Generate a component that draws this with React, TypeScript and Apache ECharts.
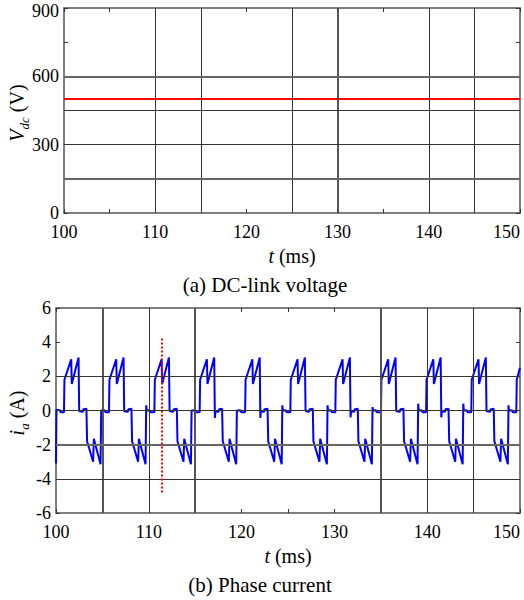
import React, { useEffect, useRef } from 'react';
import * as echarts from 'echarts';

// ---- data ----
const xTickLabels = [100, 110, 120, 130, 140, 150];
const vdcTime = [100, 150];
const vdcValues = [500, 500];
const vdcTickLabels = [0, 300, 600, 900];
const iaTickLabels = [-6, -4, -2, 0, 2, 4, 6];

// grid lines (oscilloscope style) drawn in the reference
const topVGridThin = [110, 115, 125, 140, 145];
const topVGridThick = [130];
const topHGridThin = [450, 300];
const topHGridThick = [600, 150];
const botVGridThin = [110, 140, 145];
const botVGridThick = [105, 115, 135];
const botHGridThin = [2, 0, -4];
const botHGridThick = [-2];

// red dotted marker in the current plot
const markerTime = 111.35;
const markerRange = [-4.8, 4.3];

// phase current: start, rising-edge times, one cycle shape, per-cycle levels
const startTimes = [100, 100.05, 100.4, 100.5];
const startValues = [-3.1, 0.05, 0.02, -0.1];
const riseTimes = [100.88, 105.73, 110.62, 115.5, 120.4, 125.27, 130.12, 135.04, 139.9, 144.77];
const shapeOffsets = [-0.02, 0.03, 0.76, 0.82, 1.55, 1.62, 1.68, 2.0, 2.08, 2.4, 2.47, 3.12, 3.2, 3.92, 3.99, 4.05, 4.35, 4.45];
const shapeValues = [-0.1, 1.8, 3.0, 1.55, 3.1, NaN, -0.05, -0.08, 0.08, 0.1, -1.8, -3.0, -1.65, -3.15, NaN, 0.0, 0.02, -0.1];
const posDropLevel = [-0.05, -0.05, 0, -0.44, -0.44, 0.05, -0.4, 0, -0.4, 0];
const negEndLevel = [0, 0.3, 0, 0, 0.3, 0.3, 0.2, 0.4, 0.4, 0.3];
const endTimes = [149.6, 149.65, 150];
const endValues = [-0.1, 1.8, 2.5];

const FONT = 'Liberation Serif, serif';

function buildCurrent(): number[][] {
  const pts: number[][] = [];
  startTimes.forEach((t, i) => pts.push([t, startValues[i]]));
  riseTimes.forEach((r, c) => {
    shapeOffsets.forEach((o, k) => {
      let v = shapeValues[k];
      if (k === 5) v = posDropLevel[c];
      if (k === 14) v = negEndLevel[c];
      pts.push([+(r + o).toFixed(3), v]);
    });
  });
  endTimes.forEach((t, i) => pts.push([t, endValues[i]]));
  return pts;
}

export default function App() {
  const ref = useRef<HTMLDivElement>(null);
  useEffect(() => {
    if (!ref.current) return;
    const chart = echarts.init(ref.current, undefined, { renderer: 'svg' });

    const axisLine = { show: true, onZero: false, lineStyle: { color: '#555', width: 1.5 } };
    const axisTick = { show: true, inside: true, length: 4, lineStyle: { color: '#333', width: 1 } };
    const xLabel = {
      color: '#000', fontSize: 18, fontFamily: FONT, margin: 10, alignMaxLabel: 'right',
      formatter: (v: number) => (xTickLabels.includes(v) ? String(v) : ''),
    };
    const xName = {
      name: '{i|t} (ms)',
      nameLocation: 'middle' as const,
      nameGap: 33,
      nameTextStyle: {
        fontSize: 20, fontFamily: FONT, color: '#000',
        rich: { i: { fontSize: 20, fontFamily: FONT, fontStyle: 'italic', color: '#000' } },
      },
    };
    const xBase = { type: 'value' as const, min: 100, max: 150, interval: 5, splitLine: { show: false }, axisLine, axisTick };

    const vLines = (vals: number[], color: string, width: number) =>
      vals.map((v) => ({ xAxis: v, lineStyle: { color, width, type: 'solid' } }));
    const hLines = (vals: number[], color: string, width: number) =>
      vals.map((v) => ({ yAxis: v, lineStyle: { color, width, type: 'solid' } }));

    const gridSeries = (xi: number, yi: number, data: any[]) => ({
      type: 'line',
      xAxisIndex: xi,
      yAxisIndex: yi,
      data: [],
      z: 1,
      silent: true,
      markLine: { silent: true, symbol: ['none', 'none'], label: { show: false }, data, animation: false },
    });

    const yTitleRich = {
      i: { fontSize: 20, fontStyle: 'italic', fontFamily: FONT, lineHeight: 24, verticalAlign: 'bottom' },
      s: { fontSize: 13, fontStyle: 'italic', fontFamily: FONT, lineHeight: 24, verticalAlign: 'bottom', padding: [0, 0, -4, 0] },
      n: { fontSize: 20, fontFamily: FONT, lineHeight: 24, verticalAlign: 'bottom' },
    };
    const yLabelRich = {
      top: { fontSize: 18, fontFamily: FONT, color: '#000', lineHeight: 16, padding: [5, 0, 0, 0] },
    };

    const option: any = {
      animation: false,
      textStyle: { fontFamily: FONT },
      grid: [
        { left: 64, top: 8, width: 456, height: 205, containLabel: false, outerBoundsMode: 'none' },
        { left: 56, top: 308, width: 464, height: 205, containLabel: false, outerBoundsMode: 'none' },
      ],
      xAxis: [
        { ...xBase, gridIndex: 0, position: 'bottom', axisLabel: xLabel, ...xName },
        { ...xBase, gridIndex: 0, position: 'top', axisLabel: { show: false } },
        { ...xBase, gridIndex: 1, position: 'bottom', axisLabel: xLabel, ...xName },
        { ...xBase, gridIndex: 1, position: 'top', axisLabel: { show: false } },
      ],
      yAxis: [
        {
          type: 'value', gridIndex: 0, min: 0, max: 900, interval: 150, position: 'left',
          splitLine: { show: false }, axisLine, axisTick,
          axisLabel: { color: '#000', fontSize: 18, lineHeight: 16, fontFamily: FONT, margin: 5, rich: yLabelRich,
            formatter: (v: number) => (vdcTickLabels.includes(v) ? (v === 900 ? '{top|900}' : String(v)) : '') },
        },
        {
          type: 'value', gridIndex: 0, min: 0, max: 900, interval: 150, position: 'right',
          splitLine: { show: false }, axisLine, axisTick, axisLabel: { show: false },
        },
        {
          type: 'value', gridIndex: 1, min: -6, max: 6, interval: 2, position: 'left',
          splitLine: { show: false }, axisLine, axisTick,
          axisLabel: { color: '#000', fontSize: 18, lineHeight: 16, fontFamily: FONT, margin: 5,
            formatter: (v: number) => (iaTickLabels.includes(v) ? String(v) : '') },
        },
        {
          type: 'value', gridIndex: 1, min: -6, max: 6, interval: 2, position: 'right',
          splitLine: { show: false }, axisLine, axisTick, axisLabel: { show: false },
        },
      ],
      series: [
        gridSeries(0, 0, [
          ...vLines(topVGridThin, '#333', 1),
          ...vLines(topVGridThick, '#444', 1.8),
          ...hLines(topHGridThin, '#333', 1),
          ...hLines(topHGridThick, '#666', 2),
        ]),
        gridSeries(2, 2, [
          ...vLines(botVGridThin, '#333', 1),
          ...vLines(botVGridThick, '#555', 2),
          ...hLines(botHGridThin, '#333', 1.2),
          ...hLines(botHGridThick, '#666', 2.2),
        ]),
        {
          type: 'line', xAxisIndex: 0, yAxisIndex: 0, z: 3,
          data: vdcTime.map((t, i) => [t, vdcValues[i]]),
          showSymbol: false, symbol: 'none',
          lineStyle: { color: '#ff0000', width: 2 },
        },
        {
          type: 'line', xAxisIndex: 2, yAxisIndex: 2, z: 3,
          data: buildCurrent(),
          showSymbol: false, symbol: 'none',
          lineStyle: { color: '#0000ff', width: 2 },
        },
        {
          type: 'line', xAxisIndex: 2, yAxisIndex: 2, z: 4, data: [],
          markLine: {
            silent: true, symbol: ['none', 'none'], label: { show: false },
            data: [[{ coord: [markerTime, markerRange[0]] }, { coord: [markerTime, markerRange[1]] }]],
            lineStyle: { color: '#ff0000', width: 2, type: [2, 2] },
          },
        },
      ],
      graphic: [
        {
          type: 'text', x: 15, y: 113, rotation: Math.PI / 2,
          style: {
            text: '{i|V}{s|dc}{n| (V)}', align: 'center', verticalAlign: 'middle',
            fontFamily: FONT, fontSize: 20, fill: '#000', rich: yTitleRich,
          },
        },
        {
          type: 'text', x: 15, y: 413, rotation: Math.PI / 2,
          style: {
            text: '{i|i}{s|a}{n| (A)}', align: 'center', verticalAlign: 'middle',
            fontFamily: FONT, fontSize: 20, fill: '#000', rich: yTitleRich,
          },
        },
        {
          type: 'text', x: 265, y: 285,
          style: { text: '(a) DC-link voltage', align: 'center', verticalAlign: 'middle', fontFamily: FONT, fontSize: 21, fill: '#000' },
        },
        {
          type: 'text', x: 260, y: 585,
          style: { text: '(b) Phase current', align: 'center', verticalAlign: 'middle', fontFamily: FONT, fontSize: 21, fill: '#000' },
        },
      ],
    };
    chart.setOption(option);
    return () => chart.dispose();
  }, []);
  return <div ref={ref} style={{ position: 'absolute', left: 0, top: 0, width: 524, height: 600, background: '#fff' }} />;
}
